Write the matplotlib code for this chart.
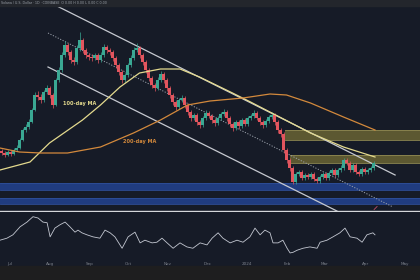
import numpy as np
import matplotlib
matplotlib.use('Agg')
import matplotlib.pyplot as plt

# daily candles (price units, one candle per index)
closes = [58, 56, 59, 57, 61, 63, 71, 81, 84, 89, 101, 116, 114, 111, 119, 123, 116, 106, 131, 141,
          156, 166, 159, 151, 149, 163, 171, 161, 156, 154, 153, 156, 151, 156, 164, 161, 159, 153, 146, 139,
          131, 136, 146, 153, 161, 163, 156, 149, 141, 133, 126, 123, 131, 137, 131, 123, 116, 109, 104, 111,
          113, 106, 99, 93, 96, 89, 86, 93, 98, 95, 91, 88, 93, 97, 99, 93, 87, 83, 89, 85,
          91, 87, 93, 95, 98, 93, 89, 86, 90, 94, 96, 89, 81, 77, 61, 51, 43, 29, 37, 39,
          33, 36, 34, 37, 32, 30, 34, 37, 33, 38, 41, 36, 41, 43, 51, 48, 41, 46, 39, 37,
          42, 39, 41, 43, 48]
highs = [62, 60, 61, 61, 63, 66, 73, 83, 87, 92, 103, 119, 120, 117, 121, 126, 125, 118, 133, 144,
         159, 170, 168, 161, 154, 166, 179, 173, 163, 158, 157, 158, 158, 159, 167, 166, 163, 161, 155, 148,
         141, 138, 148, 156, 164, 168, 165, 158, 151, 143, 135, 128, 134, 140, 139, 133, 125, 118, 111, 113,
         116, 115, 108, 101, 98, 98, 91, 95, 101, 100, 97, 93, 95, 99, 102, 101, 95, 89, 91, 91,
         93, 93, 95, 97, 101, 100, 95, 91, 92, 96, 99, 98, 91, 83, 79, 63, 53, 45, 39, 41,
         41, 38, 38, 39, 39, 34, 36, 39, 39, 40, 43, 43, 43, 46, 53, 53, 50, 48, 48, 41,
         44, 44, 43, 45, 50]
lows = [56, 54, 55, 55, 56, 60, 62, 70, 79, 82, 88, 100, 111, 108, 109, 117, 113, 103, 105, 129,
        139, 154, 156, 148, 146, 147, 160, 158, 153, 151, 150, 151, 148, 149, 154, 158, 156, 150, 143, 136,
        128, 129, 134, 144, 151, 159, 153, 146, 138, 130, 123, 120, 121, 129, 128, 120, 113, 106, 101, 102,
        109, 103, 96, 90, 91, 86, 83, 84, 91, 93, 88, 85, 86, 91, 95, 90, 84, 80, 81, 82,
        83, 85, 85, 91, 93, 91, 86, 83, 84, 88, 92, 86, 78, 74, 58, 48, 40, 27, 27, 35,
        31, 31, 32, 32, 30, 28, 28, 32, 31, 31, 36, 34, 34, 39, 41, 46, 39, 39, 37, 35,
        35, 37, 37, 39, 41]
first_open = 60

# moving averages (x in candle index)
ma100_x = [-0.5, 9.5, 16, 27, 33, 39.5, 46, 53, 59.5, 66, 77, 83, 103, 114, 124.5]
ma100 = [41, 49, 68, 91, 106, 124, 138, 142, 142, 134, 118, 109, 78, 64, 54]
ma200_x = [-0.5, 6, 13, 22, 33, 44, 53, 62, 69.5, 80.5, 89.5, 95, 103, 114, 124.5]
ma200 = [63, 59, 58, 58, 64, 78, 91, 106, 110, 113, 117, 116, 108, 94, 81]

# descending channel
upper_x, upper_y = [17.8, 131.2], [206, 36]
lower_x, lower_y = [15.5, 111.8], [144, 0]
mid_x, mid_y = [15.5, 130.5], [178, 4]

# zones (low, high, start index)
yellow_zones = [(71, 81, 94.5), (48, 56, 96.2)]
blue_zones = [(21, 28), (7, 13)]

# RSI
rsi_x = [-0.5, 1.8, 3.8, 6.2, 8.5, 10.5, 12.2, 13.8, 15.2, 16.2, 17.8, 19.5, 21.2, 22.8, 24.5, 25.5,
         26.8, 28.5, 30.5, 32.8, 34.5, 36.2, 37.8, 40.2, 42.2, 44.5, 46.2, 47.8, 50.2, 51.8, 53.5,
         55.2, 57.2, 59.5, 61.8, 63.8, 66.2, 68.5, 70.2, 72.2, 73.8, 76.2, 78.5, 80.5, 82.8, 84.5,
         86.2, 87.8, 89.5, 90.5, 92.2, 93.8, 95.2, 96.2, 97.2, 98.5, 100.5, 102.8, 105.2, 106.2,
         108.5, 110.5, 112.8, 114.5, 116.2, 118.5, 120.2, 121.8, 123.8, 124.5]
rsi = [43, 46, 51, 63, 70, 78, 76, 70, 69, 48, 61, 66, 70, 63, 55, 58,
       54, 51, 48, 46, 58, 54, 48, 31, 48, 55, 39, 43, 39, 40, 46,
       39, 31, 39, 33, 31, 39, 36, 46, 54, 46, 39, 43, 40, 48, 61,
       51, 58, 54, 39, 39, 43, 31, 24, 25, 28, 31, 33, 31, 40,
       43, 48, 54, 61, 48, 46, 40, 51, 54, 51]

month_pos = [2.8, 16.2, 29.5, 42.2, 55.5, 68.8, 81.8, 95.2, 107.8, 121.2, 134.5]
month_labels = ['Jul', 'Aug', 'Sep', 'Oct', 'Nov', 'Dec', '2024', 'Feb', 'Mar', 'Apr', 'May']

bg = '#161b27'
up_col = '#3aa893'
down_col = '#e2555e'

fig = plt.figure(figsize=(4.2, 2.8), dpi=100)
fig.patch.set_facecolor(bg)

# header and footer strips
fig.patches.append(plt.Rectangle((0, 274 / 280), 1, 6 / 280, transform=fig.transFigure,
                                 color='#23262c', zorder=0))
fig.patches.append(plt.Rectangle((0, 0), 1, 14 / 280, transform=fig.transFigure,
                                 color='#1e1e1f', zorder=0))
fig.text(0.003, 277 / 280, 'Solana / U.S. Dollar · 1D · COINBASE  O 0.00 H 0.00 L 0.00 C 0.00',
         fontsize=2.3, color='#9aa0a8', va='center')

ax = fig.add_axes([0, 69 / 280, 1, 205 / 280])
ax.set_facecolor(bg)
ax.set_xlim(-0.5, 139.5)
ax.set_ylim(0, 205)

for lo, hi in blue_zones:
    ax.axhspan(lo, hi, color='#203c80', lw=0, zorder=1)
    ax.axhline(lo, color='#2e4e98', lw=0.6, zorder=1)
    ax.axhline(hi, color='#2e4e98', lw=0.6, zorder=1)

for lo, hi, x0 in yellow_zones:
    ax.fill_between([x0, 139.5], lo, hi, color='#5c5831', lw=0, zorder=1)
    ax.plot([x0, 139.5], [lo, lo], color='#8f8952', lw=0.6, zorder=1)
    ax.plot([x0, 139.5], [hi, hi], color='#8f8952', lw=0.6, zorder=1)

ax.plot(upper_x, upper_y, color='#c6c9d0', lw=0.9, zorder=2)
ax.plot(lower_x, lower_y, color='#c6c9d0', lw=0.9, zorder=2)
ax.plot(mid_x, mid_y, color='#9ba1ab', lw=0.7, ls=(0, (1.2, 1.6)), zorder=2)

opens = [first_open] + closes[:-1]
for i in range(len(closes)):
    o, c = opens[i], closes[i]
    col = up_col if c >= o else down_col
    ax.vlines(i, lows[i], highs[i], color=col, lw=0.5, zorder=3)
    ax.bar(i, max(abs(c - o), 0.8), bottom=min(o, c), width=0.72, color=col, lw=0, zorder=3)

ax.plot(ma100_x, ma100, color='#e4da8e', lw=0.9, zorder=4)
ax.plot(ma200_x, ma200, color='#d3893c', lw=0.9, zorder=4)
ax.text(26.2, 108, '100-day MA', color='#e4da8e', fontsize=3.6, fontweight='bold',
        ha='center', va='center')
ax.text(46.2, 69, '200-day MA', color='#d3893c', fontsize=3.6, fontweight='bold',
        ha='center', va='center')

# small marker near the channel end
ax.plot([124.2, 125.2], [1.5, 4.5], color='#c0506a', lw=0.6, zorder=4)

for s in ['top', 'left', 'right']:
    ax.spines[s].set_visible(False)
ax.spines['bottom'].set_color('#d4d6da')
ax.spines['bottom'].set_linewidth(1.0)
ax.set_xticks([])
ax.set_yticks([])

ax2 = fig.add_axes([0, 21 / 280, 1, 47 / 280])
ax2.set_facecolor(bg)
ax2.set_xlim(-0.5, 139.5)
ax2.set_ylim(15, 85)
ax2.plot(rsi_x, rsi, color='#c3c7d1', lw=0.6)
for s in ax2.spines.values():
    s.set_visible(False)
ax2.set_yticks([])
ax2.set_xticks(month_pos)
ax2.set_xticklabels(month_labels, fontsize=3, color='#7d828c')
ax2.tick_params(axis='x', length=0, pad=2)

fig.savefig('out.png', dpi=100, facecolor=fig.get_facecolor())
